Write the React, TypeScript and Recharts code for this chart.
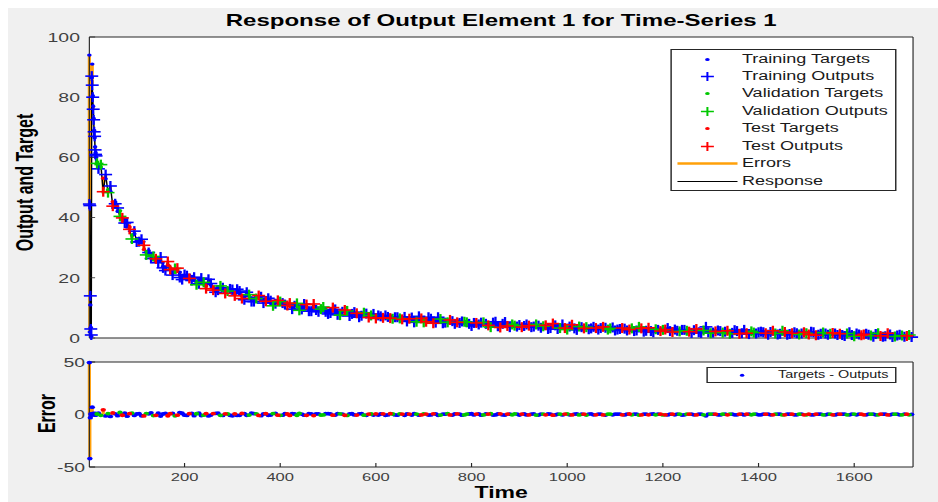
import React from 'react';
import { ComposedChart, Scatter, Line, XAxis, YAxis, CartesianGrid, Legend } from 'recharts';

// ---------- text ----------
const TITLE = 'Response of Output Element 1 for Time-Series 1';
const X_LABEL = 'Time';
const Y_LABEL_TOP = 'Output and Target';
const Y_LABEL_BOTTOM = 'Error';

// ---------- axes ----------
const X_DOMAIN: [number, number] = [1, 1723];
const X_TICKS = [200, 400, 600, 800, 1000, 1200, 1400, 1600];
const Y_DOMAIN_TOP: [number, number] = [0, 100];
const Y_TICKS_TOP = [0, 20, 40, 60, 80, 100];
const Y_DOMAIN_BOTTOM: [number, number] = [-50, 50];
const Y_TICKS_BOTTOM = [-50, 0, 50];

// ---------- data ----------
const time = [
  1, 2, 3, 4, 5, 6, 7, 8, 9, 10, 11, 12, 13, 14, 15, 17,
  20, 25, 30, 35, 40, 45, 50, 55, 60, 65, 70, 75, 80, 85, 90, 95, 100,
  105, 110, 115, 120, 125, 130, 135, 140, 145, 150, 155, 160, 165, 170, 175, 180, 185, 190, 195, 200,
  205, 210, 215, 220, 225, 230, 235, 240, 245, 250, 255, 260, 265, 270, 275, 280, 285, 290, 295, 300,
  305, 310, 315, 320, 325, 330, 335, 340, 345, 350, 355, 360, 365, 370, 375, 380, 385, 390, 395, 400,
  405, 410, 415, 420, 425, 430, 435, 440, 445, 450, 455, 460, 465, 470, 475, 480, 485, 490, 495, 500,
  505, 510, 515, 520, 525, 530, 535, 540, 545, 550, 555, 560, 565, 570, 575, 580, 585, 590, 595, 600,
  605, 610, 615, 620, 625, 630, 635, 640, 645, 650, 655, 660, 665, 670, 675, 680, 685, 690, 695, 700,
  705, 710, 715, 720, 725, 730, 735, 740, 745, 750, 755, 760, 765, 770, 775, 780, 785, 790, 795, 800,
  805, 810, 815, 820, 825, 830, 835, 840, 845, 850, 855, 860, 865, 870, 875, 880, 885, 890, 895, 900,
  905, 910, 915, 920, 925, 930, 935, 940, 945, 950, 955, 960, 965, 970, 975, 980, 985, 990, 995, 1000,
  1005, 1010, 1015, 1020, 1025, 1030, 1035, 1040, 1045, 1050, 1055, 1060, 1065, 1070, 1075, 1080, 1085, 1090, 1095, 1100,
  1105, 1110, 1115, 1120, 1125, 1130, 1135, 1140, 1145, 1150, 1155, 1160, 1165, 1170, 1175, 1180, 1185, 1190, 1195, 1200,
  1205, 1210, 1215, 1220, 1225, 1230, 1235, 1240, 1245, 1250, 1255, 1260, 1265, 1270, 1275, 1280, 1285, 1290, 1295, 1300,
  1305, 1310, 1315, 1320, 1325, 1330, 1335, 1340, 1345, 1350, 1355, 1360, 1365, 1370, 1375, 1380, 1385, 1390, 1395, 1400,
  1405, 1410, 1415, 1420, 1425, 1430, 1435, 1440, 1445, 1450, 1455, 1460, 1465, 1470, 1475, 1480, 1485, 1490, 1495, 1500,
  1505, 1510, 1515, 1520, 1525, 1530, 1535, 1540, 1545, 1550, 1555, 1560, 1565, 1570, 1575, 1580, 1585, 1590, 1595, 1600,
  1605, 1610, 1615, 1620, 1625, 1630, 1635, 1640, 1645, 1650, 1655, 1660, 1665, 1670, 1675, 1680, 1685, 1690, 1695, 1700,
  1705, 1710, 1715, 1720,
];

const target = [
  94, 2, 11, 3.5, 0.5, 86.5, 91, 80.5, 77, 73, 69, 66.5, 63.5, 61.5, 60, 58.5,
  57.4, 56.8, 53.1, 52.9, 49.2, 48.7, 45.3, 45.2, 42.1, 42.3, 39.2, 39.5, 36.8, 36.9, 34.3, 34.6, 32.4,
  32.9, 31.6, 29.4, 28.5, 29.0, 28.0, 26.1, 25.5, 26.3, 25.4, 23.8, 23.5, 24.2, 23.4, 21.9, 21.8, 22.6, 21.9, 20.6, 20.5,
  19.8, 20.6, 20.2, 19.1, 18.4, 19.3, 18.9, 17.9, 17.3, 18.1, 17.6, 16.8, 16.2, 17.1, 16.5, 15.8, 15.4, 16.1, 15.6, 14.9,
  14.6, 15.3, 14.8, 14.1, 13.6, 14.5, 13.9, 13.3, 12.9, 13.7, 13.2, 12.6, 12.1, 13.0, 12.5, 11.9, 11.6, 12.4, 11.9, 11.3,
  11.0, 11.8, 11.3, 10.7, 10.4, 11.2, 10.8, 10.2, 9.9, 10.7, 10.3, 9.7, 9.5, 10.3, 9.8, 9.3, 9.1, 9.9, 9.4, 8.9,
  8.8, 9.5, 9.0, 8.5, 8.2, 9.1, 8.6, 8.1, 7.8, 8.7, 8.2, 7.7, 7.5, 8.3, 7.8, 7.4, 7.2, 8.0, 7.5, 7.1,
  7.0, 7.7, 7.3, 6.8, 6.6, 7.4, 6.9, 6.5, 6.3, 7.1, 6.6, 6.2, 6.0, 6.8, 6.3, 5.9, 5.8, 6.6, 6.1, 5.7,
  5.8, 6.4, 6.0, 5.5, 5.6, 6.2, 5.8, 5.3, 5.4, 6.0, 5.6, 5.1, 5.2, 5.8, 5.4, 4.9, 5.0, 5.6, 5.2, 4.7,
  4.6, 5.4, 5.0, 4.5, 4.8, 5.2, 4.6, 4.3, 4.6, 5.0, 4.4, 4.1, 4.3, 4.8, 4.4, 4.0, 4.2, 4.7, 4.2, 3.8,
  4.0, 4.5, 4.1, 3.7, 3.9, 4.4, 4.0, 3.6, 3.8, 4.3, 3.9, 3.5, 3.7, 4.2, 3.8, 3.4, 3.6, 4.1, 3.7, 3.3,
  3.5, 4.0, 3.6, 3.2, 3.4, 3.9, 3.5, 3.1, 3.3, 3.8, 3.4, 3.0, 3.2, 3.7, 3.3, 2.9, 3.1, 3.6, 3.2, 2.8,
  3.1, 3.4, 3.0, 2.7, 2.9, 3.3, 2.9, 2.6, 2.8, 3.2, 2.8, 2.5, 2.7, 3.1, 2.7, 2.4, 2.6, 3.0, 2.6, 2.3,
  2.5, 2.9, 2.6, 2.3, 2.5, 2.8, 2.5, 2.2, 2.4, 2.7, 2.4, 2.1, 2.3, 2.6, 2.3, 2.0, 2.2, 2.4, 2.2, 2.0,
  2.1, 2.5, 2.2, 1.9, 2.1, 2.4, 2.1, 1.8, 2.0, 2.3, 2.0, 1.7, 1.9, 2.3, 1.9, 1.6, 1.9, 2.2, 1.8, 1.6,
  1.8, 2.2, 1.9, 1.5, 1.7, 2.1, 1.8, 1.5, 1.7, 2.0, 1.7, 1.4, 1.6, 1.9, 1.6, 1.3, 1.5, 1.9, 1.6, 1.3,
  1.5, 1.8, 1.6, 1.2, 1.4, 1.8, 1.5, 1.2, 1.4, 1.7, 1.4, 1.1, 1.3, 1.7, 1.3, 1.0, 1.2, 1.6, 1.3, 1.0,
  1.2, 1.5, 1.2, 0.9, 1.1, 1.4, 1.1, 0.8, 1.0, 1.3, 1.0, 0.7, 0.9, 1.2, 0.9, 0.6, 0.8, 1.1, 0.8, 0.5,
  0.7, 1.0, 0.7, 0.5,
];

// Targets - Outputs
const error = [
  49.5, -42, -3, 0.5, -0.5, -0.5, 7, 0.5, 1, 0.5, 0.5, -0.5, 1, 0.5, -0.5, 0.5,
  1.2, -0.8, 4.5, -1.4, 0.9, -1.8, 1.5, 0.6, -1.1, 1.9, -0.7, 1.3, -1.6, 0.8, 1.4, -0.9, 0.5,
  0.9, -1.2, -1.4, 0.9, 0.6, 1.6, -1.0, -0.8, 1.3, -1.5, 0.5, 1.1, -1.2, 0.7, 1.0, -1.3, -0.6, 1.8, 1.2, -0.6,
  -0.9, 0.8, 1.1, -1.1, 0.7, 1.3, -1.0, -0.6, 0.9, -1.4, -0.5, 0.9, 1.0, 1.2, -0.8, -0.9, 0.6, 0.5, -0.7, -1.2,
  0.6, -0.9, -0.8, 1.0, 0.9, -0.7, -0.5, 1.2, 0.8, 0.6, -0.9, -1.1, 0.5, 0.8, -0.7, -0.5, 0.9, 1.0, -0.6, -0.8,
  -0.6, 0.7, 0.5, -0.9, 0.8, 0.5, -0.7, 1.0, 0.4, -0.6, -0.8, 0.8, 0.6, -1.0, 0.5, 0.6, -0.5, -0.4, 0.7, 0.9,
  0.5, -0.6, -0.5, 0.8, 0.6, 0.4, -0.7, -0.9, 0.5, 0.7, -0.4, -0.5, 0.6, 0.9, -0.6, -0.7, 0.4, 0.5, -0.5, 0.6,
  -0.5, 0.5, 0.6, -0.7, -0.4, 0.8, 0.5, -0.4, -0.6, 0.6, 0.4, -0.8, 0.5, 0.4, -0.5, 0.7, 0.4, -0.6, -0.4, 0.5,
  0.4, -0.5, -0.4, 0.6, 0.5, -0.7, -0.5, 0.4, 0.3, 0.8, -0.4, -0.5, 0.5, 0.6, 0.4, -0.6, -0.4, 0.4, 0.5, 0.7,
  -0.4, 0.4, 0.5, -0.6, -0.4, 0.5, 0.4, 0.7, -0.5, -0.4, 0.5, 0.6, -0.4, -0.5, 0.4, 0.4, -0.3, 0.6, 0.4, -0.5,
  0.4, 0.5, -0.4, -0.4, 0.3, 0.6, -0.5, -0.5, 0.4, 0.4, -0.3, 0.5, 0.4, -0.6, -0.4, 0.4, 0.3, -0.4, 0.4, 0.5,
  -0.3, -0.4, 0.4, 0.5, -0.4, 0.3, 0.3, -0.5, 0.4, 0.6, -0.3, -0.3, 0.4, 0.4, -0.4, -0.5, 0.3, 0.4, -0.3, 0.3,
  0.3, 0.4, -0.3, -0.4, 0.4, 0.5, -0.3, 0.3, 0.3, -0.5, -0.4, 0.4, 0.3, -0.3, 0.4, 0.5, -0.3, 0.3, 0.3, -0.4,
  -0.3, -0.4, 0.3, 0.3, -0.3, 0.4, 0.3, -0.5, -0.3, 0.3, 0.3, 0.4, -0.3, -0.4, 0.4, 0.3, -0.3, -1.3, 0.3, 0.4,
  0.3, 0.3, -0.3, -0.4, 0.3, 0.3, -0.3, 0.4, 0.3, -0.3, -0.3, 0.3, 0.3, -0.4, 0.3, 0.3, -0.3, 0.4, 0.3, -0.3,
  -0.3, 0.3, 0.3, 0.4, -0.3, -0.3, 0.3, 0.3, 0.3, -0.4, -0.3, 0.3, 0.3, 0.3, -0.3, -0.3, 0.3, 0.4, -0.3, -0.3,
  0.3, -0.3, -0.3, 0.3, 0.3, 0.4, -0.3, -0.3, 0.3, 0.3, -0.3, -0.4, 0.3, 0.3, 0.3, 0.3, -0.3, -0.3, 0.3, 0.4,
  -0.3, 0.3, 0.3, -0.3, -0.3, 0.3, 0.3, 0.4, -0.3, -0.3, 0.3, 0.3, 0.3, -0.4, -0.3, 0.3, 0.3, 0.3, -0.3, -0.3,
  0.3, 0.3, -0.3, 0.2,
];

// 0 = training, 1 = validation, 2 = test
const subset = [
  0, 0, 0, 0, 0, 0, 0, 0, 0, 0, 0, 0, 0, 0, 0, 1,
  0, 1, 2, 0, 1, 0, 2, 0, 0, 1, 2, 0, 0, 2, 1, 0, 0,
  0, 0, 2, 1, 0, 0, 1, 2, 0, 0, 0, 0, 2, 2, 0, 1, 2, 0, 0, 0,
  0, 2, 0, 0, 1, 0, 0, 1, 2, 0, 0, 2, 0, 0, 1, 0, 2, 1, 0, 0,
  2, 0, 0, 2, 0, 0, 1, 0, 0, 1, 2, 0, 0, 2, 0, 0, 1, 0, 2, 1,
  0, 0, 2, 2, 0, 0, 1, 1, 0, 0, 2, 0, 0, 2, 0, 0, 1, 1, 0, 0,
  0, 2, 0, 0, 1, 0, 2, 1, 0, 0, 0, 2, 0, 0, 1, 0, 2, 1, 0, 2,
  0, 0, 2, 0, 0, 2, 1, 0, 0, 1, 2, 0, 0, 2, 0, 0, 1, 0, 2, 1,
  2, 0, 0, 2, 0, 0, 1, 0, 0, 1, 2, 0, 0, 2, 0, 0, 1, 1, 0, 0,
  0, 2, 0, 0, 1, 0, 2, 1, 0, 0, 0, 2, 0, 0, 2, 0, 1, 1, 0, 0,
  2, 0, 0, 2, 0, 0, 1, 0, 0, 1, 2, 0, 0, 2, 0, 0, 1, 0, 2, 1,
  0, 2, 0, 0, 1, 0, 2, 1, 0, 0, 0, 2, 0, 0, 2, 0, 1, 1, 0, 0,
  0, 0, 2, 0, 0, 2, 1, 0, 0, 1, 2, 0, 0, 2, 0, 0, 1, 0, 2, 1,
  2, 0, 0, 2, 0, 0, 1, 0, 0, 1, 2, 0, 0, 2, 0, 0, 1, 0, 0, 1,
  0, 2, 0, 0, 1, 0, 2, 1, 0, 0, 0, 2, 0, 0, 2, 0, 1, 1, 0, 0,
  0, 0, 2, 0, 0, 2, 1, 0, 0, 1, 2, 0, 0, 2, 0, 0, 1, 0, 2, 1,
  2, 0, 0, 2, 0, 0, 1, 0, 0, 1, 2, 0, 0, 2, 0, 0, 1, 0, 0, 1,
  0, 0, 2, 2, 0, 0, 1, 0, 0, 1, 2, 0, 0, 2, 0, 0, 1, 0, 0, 1,
  0, 2, 1, 0,
];

// ---------- styles ----------
const BLUE = '#0000ff';
const GREEN = '#00c800';
const RED = '#ff0000';
const ORANGE = '#ffa00a';
const BLACK = '#000000';
const AXIS = '#262626';
const TICK_TEXT = '#404040';
const FONT = '"Liberation Sans", Arial, Helvetica, sans-serif';

const SUBSETS = [
  { id: 0, targetName: 'Training Targets', outputName: 'Training Outputs', color: BLUE },
  { id: 1, targetName: 'Validation Targets', outputName: 'Validation Outputs', color: GREEN },
  { id: 2, targetName: 'Test Targets', outputName: 'Test Outputs', color: RED },
];

const LEGEND_ITEMS = [
  { name: 'Training Targets', color: BLUE, symbol: 'dot' },
  { name: 'Training Outputs', color: BLUE, symbol: 'plus' },
  { name: 'Validation Targets', color: GREEN, symbol: 'dot' },
  { name: 'Validation Outputs', color: GREEN, symbol: 'plus' },
  { name: 'Test Targets', color: RED, symbol: 'dot' },
  { name: 'Test Outputs', color: RED, symbol: 'plus' },
  { name: 'Errors', color: ORANGE, symbol: 'thick' },
  { name: 'Response', color: BLACK, symbol: 'line' },
];
const BOTTOM_LEGEND = 'Targets - Outputs';

// ---------- layout (unstretched coordinates; whole figure is stretched horizontally) ----------
const STRETCH = 1.44;
const W = 645.5;
const H = 494;
const TOP_H = 345;
const TOP_MARGIN = { top: 28, right: 16, bottom: 14, left: 16.5 };
const BOT_TOP = 330;
const BOT_H = 164;
const BOT_MARGIN = { top: 23, right: 16, bottom: 5, left: 16.5 };
const Y_AXIS_W = 40;
const PLOT_LEFT = TOP_MARGIN.left + Y_AXIS_W;
const PLOT_RIGHT = W - TOP_MARGIN.right - 1;
const PLOT_CX = (PLOT_LEFT + PLOT_RIGHT) / 2;

// ---------- derived tables for the library ----------
const points = time.map((t, i) => ({
  t,
  target: target[i],
  err: error[i],
  output: Math.round((target[i] - error[i]) * 100) / 100,
  set: subset[i],
}));
const targetsOf = (k: number) => points.filter((p) => p.set === k).map((p) => ({ t: p.t, v: p.target }));
const outputsOf = (k: number) => points.filter((p) => p.set === k).map((p) => ({ t: p.t, v: p.output }));
const errorsOf = (k: number) => points.filter((p) => p.set === k).map((p) => ({ t: p.t, v: p.err }));
const responseData = points.map((p) => ({ t: p.t, v: p.output }));
const errorSegTop = points.flatMap((p) => [
  { t: p.t, v: p.target },
  { t: p.t, v: p.output },
  { t: p.t, v: null as number | null },
]);
const errorSegBottom = points.flatMap((p) => [
  { t: p.t, v: 0 },
  { t: p.t, v: p.err },
  { t: p.t, v: null as number | null },
]);

// ---------- shapes ----------
const plusShape = (color: string) => (props: any) => {
  const { cx, cy } = props;
  if (cx == null || cy == null || isNaN(cx) || isNaN(cy)) return <g />;
  return (
    <g stroke={color} strokeWidth={1.6}>
      <line x1={cx - 4.5} y1={cy} x2={cx + 4.5} y2={cy} />
      <line x1={cx} y1={cy - 5} x2={cx} y2={cy + 5} />
    </g>
  );
};
const dotShape = (color: string, r: number) => (props: any) => {
  const { cx, cy } = props;
  if (cx == null || cy == null || isNaN(cx) || isNaN(cy)) return <g />;
  return <circle cx={cx} cy={cy} r={r} fill={color} />;
};

// ---------- labels ----------
const titleLabel = () => (
  <text x={PLOT_CX} y={TOP_MARGIN.top + 1 - 11} textAnchor="middle" fontFamily={FONT} fontSize={16.7} fontWeight="bold" fill="#000">
    {TITLE}
  </text>
);
const topYLabel = () => {
  const x = 17.4;
  const y = 174.5;
  return (
    <text x={x} y={y} transform={`rotate(-90 ${x} ${y})`} textAnchor="middle" fontFamily={FONT} fontSize={16} fontWeight="bold" fill="#000">
      {Y_LABEL_TOP}
    </text>
  );
};
const bottomYLabel = () => {
  const x = 32.6;
  const y = 75.5;
  return (
    <text x={x} y={y} transform={`rotate(-90 ${x} ${y})`} textAnchor="middle" fontFamily={FONT} fontSize={16} fontWeight="bold" fill="#000">
      {Y_LABEL_BOTTOM}
    </text>
  );
};
const xLabel = () => (
  <text x={PLOT_CX} y={159.8} textAnchor="middle" fontFamily={FONT} fontSize={16} fontWeight="bold" fill="#000">
    {X_LABEL}
  </text>
);

// ---------- legends ----------
const ROW_H = 17.47;
const TopLegend = () => (
  <div
    style={{
      position: 'relative',
      width: 157.7,
      height: 142,
      boxSizing: 'border-box',
      border: `1px solid ${AXIS}`,
      background: '#ffffff',
      fontFamily: FONT,
      fontSize: 12.5,
      color: '#1a1a1a',
    }}
  >
    {LEGEND_ITEMS.map((it, i) => (
      <div key={it.name} style={{ position: 'absolute', left: 0, top: 10 + ROW_H * i - 8.5 - 1, width: '100%', height: 17 }}>
        <svg width={48} height={17} style={{ position: 'absolute', left: 0, top: 0 }}>
          {it.symbol === 'dot' && <circle cx={24.7} cy={8.5} r={1.6} fill={it.color} />}
          {it.symbol === 'plus' && (
            <g stroke={it.color} strokeWidth={1.4}>
              <line x1={20.2} y1={8.5} x2={29.2} y2={8.5} />
              <line x1={24.7} y1={4} x2={24.7} y2={13} />
            </g>
          )}
          {it.symbol === 'thick' && <line x1={3.9} y1={8.5} x2={45.6} y2={8.5} stroke={it.color} strokeWidth={2.6} />}
          {it.symbol === 'line' && <line x1={3.9} y1={8.5} x2={45.6} y2={8.5} stroke={it.color} strokeWidth={1} />}
        </svg>
        <span style={{ position: 'absolute', left: 49, top: 0, lineHeight: '17px', whiteSpace: 'nowrap' }}>{it.name}</span>
      </div>
    ))}
  </div>
);

const BottomLegend = () => (
  <div
    style={{
      position: 'relative',
      width: 132,
      height: 16.6,
      boxSizing: 'border-box',
      border: `1px solid ${AXIS}`,
      background: '#ffffff',
      fontFamily: FONT,
      fontSize: 10,
      color: '#1a1a1a',
    }}
  >
    <svg width={40} height={14.6} style={{ position: 'absolute', left: 0, top: 0 }}>
      <circle cx={23.8} cy={7.3} r={1.5} fill={BLUE} />
    </svg>
    <span style={{ position: 'absolute', left: 48.5, top: 0, lineHeight: '14.6px', whiteSpace: 'nowrap' }}>{BOTTOM_LEGEND}</span>
  </div>
);

const axisLineStyle = { stroke: AXIS, strokeWidth: 0.8 };

export default function App() {
  return (
    <div
      style={{
        position: 'absolute',
        left: 8,
        top: 8,
        width: W,
        height: H,
        background: '#f0f0f0',
        transform: `scaleX(${STRETCH})`,
        transformOrigin: '0 0',
        overflow: 'hidden',
        fontFamily: FONT,
      }}
    >
      {/* ---------------- top panel ---------------- */}
      <div style={{ position: 'absolute', left: 0, top: 0 }}>
        <ComposedChart width={W} height={TOP_H} margin={TOP_MARGIN}>
          <CartesianGrid xAxisId="x" yAxisId="y" horizontal={false} vertical={false} fill="#ffffff" stroke="none" />
          <XAxis
            xAxisId="x"
            dataKey="t"
            type="number"
            domain={X_DOMAIN}
            ticks={X_TICKS}
            interval={0}
            height={1}
            tick={false}
            tickSize={-4}
            axisLine={axisLineStyle}
            tickLine={axisLineStyle}
          />
          <XAxis
            xAxisId="xt"
            orientation="top"
            type="number"
            domain={X_DOMAIN}
            allowDataOverflow
            ticks={X_TICKS}
            interval={0}
            height={1}
            tick={false}
            tickSize={-4}
            axisLine={axisLineStyle}
            tickLine={axisLineStyle}
            label={titleLabel}
          />
          <YAxis
            yAxisId="y"
            dataKey="v"
            type="number"
            domain={Y_DOMAIN_TOP}
            ticks={Y_TICKS_TOP}
            interval={0}
            width={Y_AXIS_W}
            tickSize={-4}
            tickMargin={10.5}
            tick={{ fontSize: 13.5, fill: TICK_TEXT, fontFamily: FONT }}
            axisLine={axisLineStyle}
            tickLine={axisLineStyle}
            label={topYLabel}
          />
          <YAxis
            yAxisId="yr"
            orientation="right"
            type="number"
            domain={Y_DOMAIN_TOP}
            allowDataOverflow
            ticks={Y_TICKS_TOP}
            interval={0}
            width={1}
            tick={false}
            tickSize={-4}
            axisLine={axisLineStyle}
            tickLine={axisLineStyle}
          />
          <Line
            xAxisId="x"
            yAxisId="y"
            name="Errors"
            data={errorSegTop}
            dataKey="v"
            stroke={ORANGE}
            strokeWidth={2.2}
            dot={false}
            activeDot={false}
            connectNulls={false}
            isAnimationActive={false}
          />
          <Line
            xAxisId="x"
            yAxisId="y"
            name="Response"
            data={responseData}
            dataKey="v"
            stroke={BLACK}
            strokeWidth={1}
            dot={false}
            activeDot={false}
            isAnimationActive={false}
          />
          {SUBSETS.map((s) => (
            <Scatter
              key={`t${s.id}`}
              xAxisId="x"
              yAxisId="y"
              name={s.targetName}
              data={targetsOf(s.id)}
              dataKey="v"
              fill={s.color}
              shape={dotShape(s.color, 1.6)}
              isAnimationActive={false}
            />
          ))}
          {SUBSETS.map((s) => (
            <Scatter
              key={`o${s.id}`}
              xAxisId="x"
              yAxisId="y"
              name={s.outputName}
              data={outputsOf(s.id)}
              dataKey="v"
              fill={s.color}
              shape={plusShape(s.color)}
              isAnimationActive={false}
            />
          ))}
          <Legend
            layout="vertical"
            align="center"
            verticalAlign="middle"
            content={() => <TopLegend />}
            wrapperStyle={{ position: 'absolute', left: 459.7, top: 41, width: 157.7, height: 142, margin: 0, padding: 0 }}
          />
        </ComposedChart>
      </div>

      {/* ---------------- bottom panel ---------------- */}
      <div style={{ position: 'absolute', left: 0, top: BOT_TOP }}>
        <ComposedChart width={W} height={BOT_H} margin={BOT_MARGIN}>
          <CartesianGrid xAxisId="x" yAxisId="y" horizontal={false} vertical={false} fill="#ffffff" stroke="none" />
          <XAxis
            xAxisId="x"
            dataKey="t"
            type="number"
            domain={X_DOMAIN}
            ticks={X_TICKS}
            interval={0}
            height={30}
            tickSize={-4}
            tickMargin={10}
            tick={{ fontSize: 11.5, fill: TICK_TEXT, fontFamily: FONT }}
            axisLine={axisLineStyle}
            tickLine={axisLineStyle}
            label={xLabel}
          />
          <XAxis
            xAxisId="xt"
            orientation="top"
            type="number"
            domain={X_DOMAIN}
            allowDataOverflow
            ticks={X_TICKS}
            interval={0}
            height={1}
            tick={false}
            tickSize={-4}
            axisLine={axisLineStyle}
            tickLine={axisLineStyle}
          />
          <YAxis
            yAxisId="y"
            dataKey="v"
            type="number"
            domain={Y_DOMAIN_BOTTOM}
            ticks={Y_TICKS_BOTTOM}
            interval={0}
            width={Y_AXIS_W}
            tickSize={-4}
            tickMargin={7}
            tick={{ fontSize: 13.5, fill: TICK_TEXT, fontFamily: FONT }}
            axisLine={axisLineStyle}
            tickLine={axisLineStyle}
            label={bottomYLabel}
          />
          <YAxis
            yAxisId="yr"
            orientation="right"
            type="number"
            domain={Y_DOMAIN_BOTTOM}
            allowDataOverflow
            ticks={Y_TICKS_BOTTOM}
            interval={0}
            width={1}
            tick={false}
            tickSize={-4}
            axisLine={axisLineStyle}
            tickLine={axisLineStyle}
          />
          <Line
            xAxisId="x"
            yAxisId="y"
            name="Error stems"
            data={errorSegBottom}
            dataKey="v"
            stroke={ORANGE}
            strokeWidth={2.2}
            dot={false}
            activeDot={false}
            connectNulls={false}
            isAnimationActive={false}
          />
          {SUBSETS.map((s) => (
            <Scatter
              key={`e${s.id}`}
              xAxisId="x"
              yAxisId="y"
              name={BOTTOM_LEGEND}
              data={errorsOf(s.id)}
              dataKey="v"
              fill={s.color}
              shape={dotShape(s.color, 1.9)}
              isAnimationActive={false}
            />
          ))}
          <Legend
            layout="vertical"
            align="center"
            verticalAlign="middle"
            content={() => <BottomLegend />}
            wrapperStyle={{ position: 'absolute', left: 485.2, top: 28.7, width: 132, height: 16.6, margin: 0, padding: 0 }}
          />
        </ComposedChart>
      </div>
    </div>
  );
}
